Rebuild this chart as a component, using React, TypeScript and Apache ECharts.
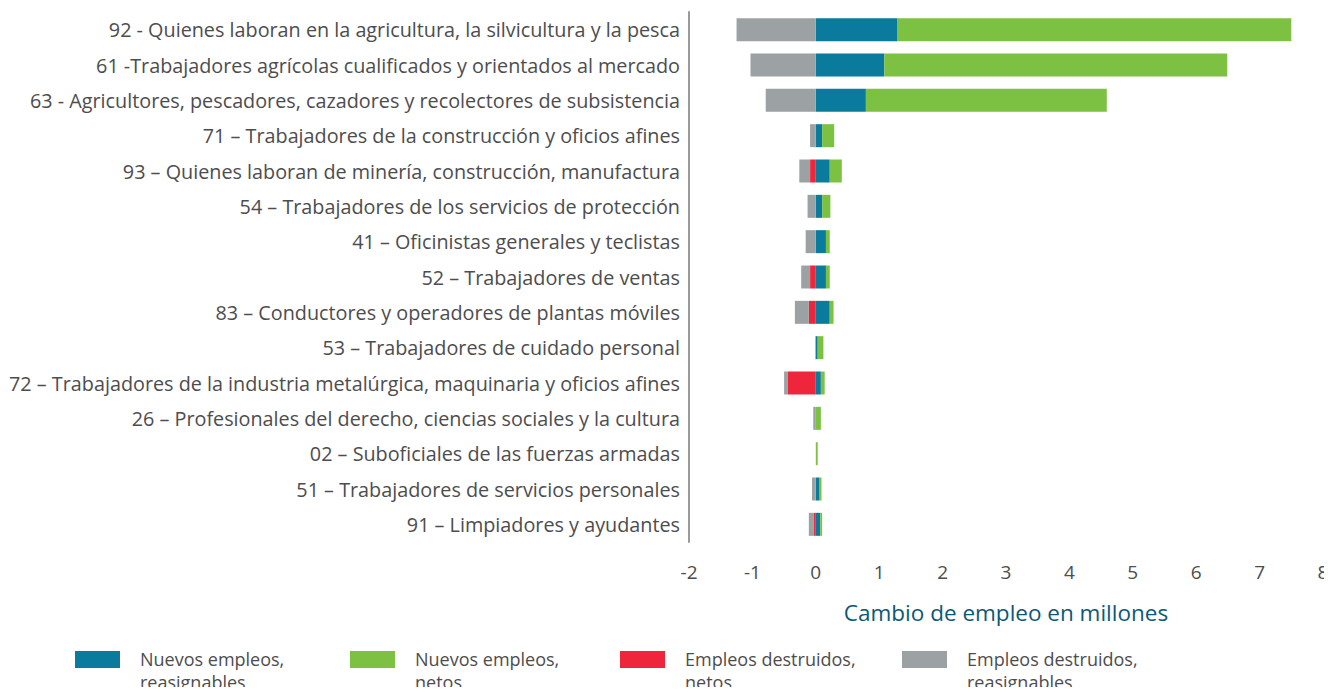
import React, { useEffect, useRef } from "react";
import * as echarts from "echarts";

const categories = [
  "92 - Quienes laboran en la agricultura, la silvicultura y la pesca",
  "61 -Trabajadores agrícolas cualificados y orientados al mercado",
  "63 - Agricultores, pescadores, cazadores y recolectores de subsistencia",
  "71 – Trabajadores de la construcción y oficios afines",
  "93 – Quienes laboran de minería, construcción, manufactura",
  "54 – Trabajadores de los servicios de protección",
  "41 – Oficinistas generales y teclistas",
  "52 – Trabajadores de ventas",
  "83 – Conductores y operadores de plantas móviles",
  "53 – Trabajadores de cuidado personal",
  "72 – Trabajadores de la industria metalúrgica, maquinaria y oficios afines",
  "26 – Profesionales del derecho, ciencias sociales y la cultura",
  "02 – Suboficiales de las fuerzas armadas",
  "51 – Trabajadores de servicios personales",
  "91 – Limpiadores y ayudantes",
];

const nuevosReasignables = [1.29, 1.08, 0.79, 0.1, 0.22, 0.1, 0.16, 0.16, 0.22, 0.03, 0.08, 0, 0, 0.06, 0.07];
const nuevosNetos = [6.21, 5.41, 3.8, 0.19, 0.19, 0.13, 0.06, 0.06, 0.06, 0.09, 0.06, 0.08, 0.03, 0.03, 0.03];
const destruidosNetos = [0, 0, 0, 0, -0.09, 0, 0, -0.09, -0.11, 0, -0.44, 0, 0, 0, -0.03];
const destruidosReasignables = [-1.25, -1.03, -0.79, -0.09, -0.17, -0.13, -0.16, -0.14, -0.22, -0.01, -0.06, -0.04, 0, -0.06, -0.08];

const xTicks = { min: -2, max: 8, interval: 1 };

const seriesDefs = [
  { name: "Nuevos empleos, reasignables", data: nuevosReasignables, color: "#0a7b9d" },
  { name: "Nuevos empleos, netos", data: nuevosNetos, color: "#7dc142" },
  { name: "Empleos destruidos, netos", data: destruidosNetos, color: "#ee253b" },
  { name: "Empleos destruidos, reasignables", data: destruidosReasignables, color: "#9ca1a4" },
];

const legendLefts = [75, 350, 620, 902];

const FONT = "'Open Sans', sans-serif";

export default function App() {
  const ref = useRef<HTMLDivElement>(null);
  useEffect(() => {
    if (!ref.current) return;
    const chart = echarts.init(ref.current, undefined, { renderer: "svg" });
    chart.setOption({
      animation: false,
      textStyle: { fontFamily: FONT },
      grid: { left: 689, right: 9, top: 12, height: 530, containLabel: false },
      xAxis: {
        type: "value",
        min: xTicks.min,
        max: xTicks.max,
        interval: xTicks.interval,
        axisLine: { show: false },
        axisTick: { show: false },
        splitLine: { show: false },
        axisLabel: { color: "#4d4d4d", fontSize: 19, margin: 20, fontFamily: FONT },
        name: "Cambio de empleo en millones",
        nameLocation: "middle",
        nameGap: 59,
        nameTextStyle: { color: "#0d5876", fontSize: 22.5, fontWeight: 500, fontFamily: FONT },
      },
      yAxis: {
        type: "category",
        inverse: true,
        data: categories,
        axisLine: { show: true, onZero: false, lineStyle: { color: "#9a9a9a", width: 2 } },
        axisTick: { show: false },
        axisLabel: { color: "#4d4d4d", fontSize: 19.8, margin: 9, fontFamily: FONT },
      },
      legend: seriesDefs.map((s, i) => ({
        data: [s.name],
        left: legendLefts[i],
        top: 648,
        padding: 0,
        itemWidth: 45,
        itemHeight: 45,
        itemGap: 0,
        icon: "path://M0,0H0.05V0.05H0Z M0,3H45V20H0Z M0,44.95H0.05V45H0Z",
        formatter: (n: string) => n.replace(", ", ",\n"),
        textStyle: { color: "#4d4d4d", fontSize: 18, lineHeight: 22.5, fontFamily: FONT, padding: [0, 0, 0, 15] },
        selectedMode: false,
      })),
      series: seriesDefs.map((s) => ({
        name: s.name,
        type: "bar",
        stack: "total",
        barWidth: 23,
        data: s.data,
        itemStyle: { color: s.color },
        emphasis: { disabled: true },
      })),
    });
    return () => chart.dispose();
  }, []);
  return <div ref={ref} style={{ width: 1332, height: 695, margin: -8 }} />;
}
